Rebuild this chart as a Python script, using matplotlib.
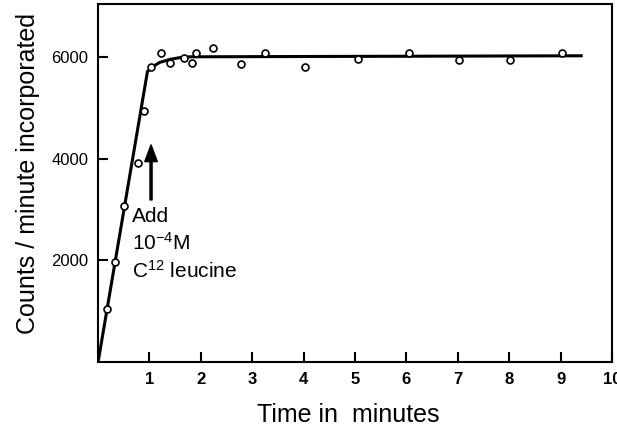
import matplotlib
matplotlib.use('Agg')
import matplotlib.pyplot as plt

plt.rcParams['font.family'] = ['Liberation Sans', 'DejaVu Sans']
plt.rcParams['mathtext.fontset'] = 'custom'
plt.rcParams['mathtext.rm'] = 'Liberation Sans'
plt.rcParams['mathtext.default'] = 'regular'

# measured points (time in minutes, counts/minute)
time_pts = [0.17, 0.33, 0.51, 0.77, 0.89, 1.02, 1.23, 1.40, 1.68, 1.82, 1.91,
            2.24, 2.79, 3.24, 4.03, 5.05, 6.04, 7.02, 8.02, 9.03]
count_pts = [1036, 1972, 3074, 3908, 4942, 5795, 6068, 5880, 5978, 5873, 6083,
             6169, 5860, 6083, 5795, 5950, 6083, 5945, 5940, 6083]

# hand drawn curve through the data
curve_t = [0, 0.96, 1.05, 1.2, 1.4, 1.6, 1.8, 9.4]
curve_c = [0, 5710, 5800, 5890, 5950, 5985, 6000, 6020]

xticks = [1, 2, 3, 4, 5, 6, 7, 8, 9, 10]
yticks = [2000, 4000, 6000]

fig = plt.figure(figsize=(6.17, 4.34), dpi=100)
ax = fig.add_axes([0.159, 0.166, 0.833, 0.825])

ax.plot(curve_t, curve_c, color='black', lw=2.2, zorder=2)
ax.plot(time_pts, count_pts, 'o', ms=5, mfc='white', mec='black', mew=1.2, zorder=3)

# arrow marking the addition of cold leucine
ax.annotate('', xy=(1.03, 4267), xytext=(1.03, 3186),
            arrowprops=dict(facecolor='black', edgecolor='black',
                            width=1.5, headwidth=9, headlength=12, shrink=0))
ax.text(0.655, 2753, 'Add', fontsize=15, va='baseline')
ax.text(0.655, 2203, '10$^{-4}$M', fontsize=15, va='baseline')
ax.text(0.655, 1652, 'C$^{12}$ leucine', fontsize=15, va='baseline')

ax.set_xlim(0, 10)
ax.set_ylim(0, 7040)
ax.set_xticks(xticks)
ax.set_yticks(yticks)
ax.tick_params(direction='in', length=7, width=1.5, labelsize=12)
ax.tick_params(axis='x', pad=7)
ax.tick_params(axis='y', pad=7)
for lbl in ax.get_xticklabels():
    lbl.set_fontweight('bold')
for s in ax.spines.values():
    s.set_linewidth(1.5)

ax.set_xlabel('Time in  minutes', fontsize=18, labelpad=12, x=0.487)
ax.set_ylabel('Counts / minute incorporated', fontsize=18, labelpad=8, y=0.525)

fig.savefig('out.png', dpi=100)
